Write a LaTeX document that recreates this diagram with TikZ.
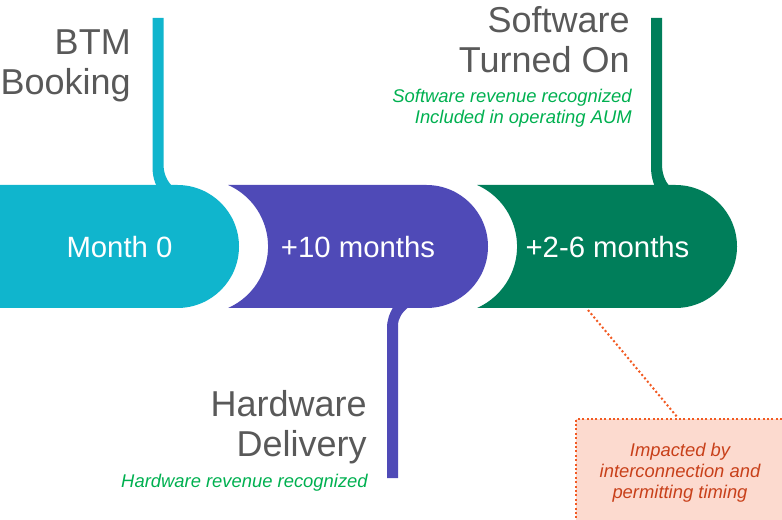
\documentclass[tikz,border=0pt]{standalone}
\usepackage{fontspec}
\setmainfont{Liberation Sans}
\definecolor{cyanc}{HTML}{10B5CD}
\definecolor{purpc}{HTML}{4F4AB7}
\definecolor{greenc}{HTML}{007E5A}
\definecolor{graytxt}{HTML}{595959}
\definecolor{greentxt}{HTML}{00B050}
\definecolor{boxfill}{HTML}{FCDACF}
\definecolor{boxline}{HTML}{F25A22}
\definecolor{boxtxt}{HTML}{C8401A}
\begin{document}
\begin{tikzpicture}[x=0.75pt,y=-0.75pt,
  big/.style={text=graytxt,font=\fontsize{27}{30}\selectfont,inner sep=0pt,anchor=base east},
  note/.style={text=greentxt,font=\fontsize{13.8}{16}\selectfont\itshape,inner sep=0pt,anchor=base east},
  seglbl/.style={text=white,font=\fontsize{22}{26}\selectfont,inner sep=0pt},
  boxt/.style={text=boxtxt,font=\fontsize{13.8}{16}\selectfont\itshape,inner sep=0pt,anchor=base},
  dotl/.style={draw=boxline,line width=1.5pt,dash pattern=on 1.5pt off 1.8pt}]
\useasboundingbox (0,0) rectangle (782,520);
% segments
\fill[cyanc] (0,185) -- (177.5,185) arc[start angle=-90,end angle=90,radius=61.5] -- (0,308) -- cycle;
\fill[purpc] (228,185) -- (426.5,185) arc[start angle=-90,end angle=90,radius=61.5] -- (228,308) arc[start angle=66.1,end angle=-66.1,radius=67.3] -- cycle;
\fill[greenc] (477,185) -- (675.5,185) arc[start angle=-90,end angle=90,radius=61.5] -- (477,308) arc[start angle=66.1,end angle=-66.1,radius=67.3] -- cycle;
% stems
\fill[cyanc] (152.5,18) -- (152.5,166) .. controls (152.5,175) and (154,181) .. (157,187) -- (173,187) .. controls (167,181) and (163.5,174) .. (163.5,164) -- (163.5,18) -- cycle;
\fill[greenc] (651,18) -- (651,166) .. controls (651,175) and (652.5,181) .. (655,187) -- (670,187) .. controls (665,181) and (662,174) .. (662,164) -- (662,18) -- cycle;
\fill[purpc] (387,478) -- (387,328) .. controls (387,320) and (389.5,313) .. (394,306) -- (410,306) .. controls (402,312) and (398,318) .. (398,326) -- (398,478) -- cycle;
% segment labels
\node[seglbl] (m0) at (119.5,247) {Month 0};
\node[seglbl] (m10) at (358,247) {+10 months};
\node[seglbl] (m26) at (607.5,247) {+2-6 months};
% milestone labels
\node[big] (btm1) at (131,55) {BTM};
\node[big] (btm2) at (131,95) {Booking};
\node[big] (sw1) at (630,33) {Software};
\node[big] (sw2) at (630,73) {Turned On};
\node[note] (swn1) at (632,103) {Software revenue recognized};
\node[note] (swn2) at (632,124) {Included in operating AUM};
\node[big] (hw1) at (367,416) {Hardware};
\node[big] (hw2) at (367,456) {Delivery};
\node[note] (hwn) at (368,487) {Hardware revenue recognized};
% impact box
\node[dotl,fill=boxfill,anchor=north west,minimum width=215*0.75pt,minimum height=115*0.75pt,inner sep=0pt] (impbox) at (575,418) {};
\node[boxt] (i1) at (680,456) {Impacted by};
\node[boxt] (i2) at (680,477) {interconnection and};
\node[boxt] (i3) at (680,498) {permitting timing};
\coordinate (gpt) at (588,310);
\coordinate (bpt) at (678,418);
\draw[dotl] (gpt) -- (bpt);
\end{tikzpicture}
\end{document}
